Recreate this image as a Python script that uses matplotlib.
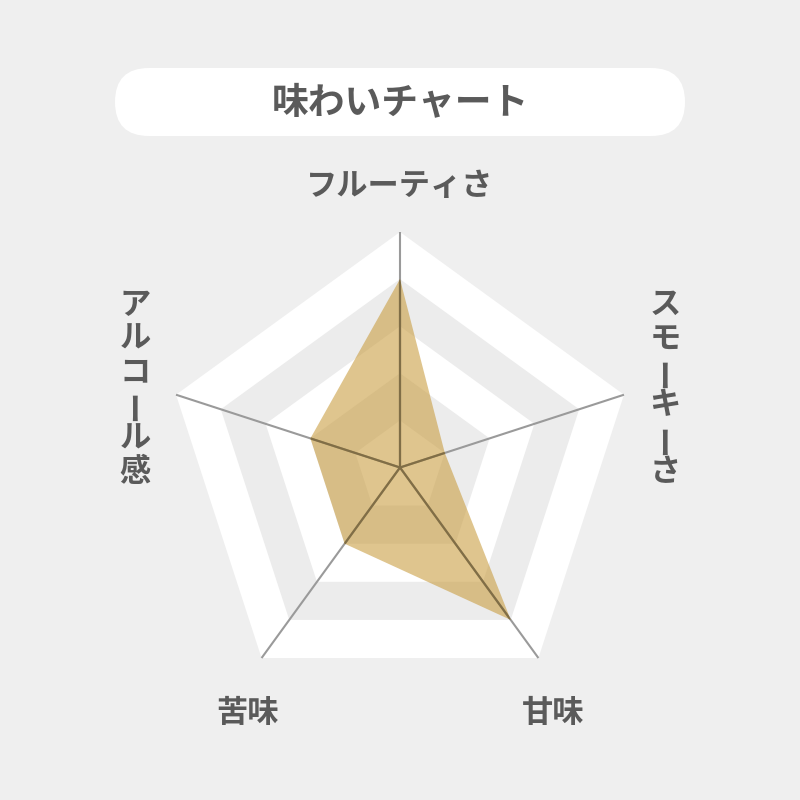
import numpy as np
import matplotlib
matplotlib.use("Agg")
import matplotlib.pyplot as plt
from matplotlib.patches import Polygon, FancyBboxPatch

plt.rcParams['font.family'] = ['Noto Sans CJK JP', 'DejaVu Sans']

# ---- data ----
title = "味わいチャート"
categories = ["フルーティさ", "スモーキーさ", "甘味", "苦味", "アルコール感"]
values = [4, 1, 4, 2, 2]
max_value = 5

BG = "#efefef"
BAND_GRAY = "#ececec"
TEXT = "#5a5a5a"
FILL = (200/255, 155/255, 60/255)

fig = plt.figure(figsize=(8, 8), dpi=100)
fig.patch.set_facecolor(BG)
ax = fig.add_axes([0, 0, 1, 1])
ax.set_xlim(0, 800)
ax.set_ylim(800, 0)
ax.axis("off")
ax.set_facecolor(BG)

cx, cy, R = 400, 467.5, 235.5
n = len(categories)
angles = np.deg2rad(90 - 360 / n * np.arange(n))

def pt(r, a):
    return cx + r * np.cos(a), cy - r * np.sin(a)

def ring(level):
    r = R * level / max_value
    return [pt(r, a) for a in angles]

# alternating bands
for lvl in range(max_value, 0, -1):
    col = "white" if (max_value - lvl) % 2 == 0 else BAND_GRAY
    ax.add_patch(Polygon(ring(lvl), closed=True, facecolor=col, edgecolor="none", zorder=1))

# axis lines (gray)
for a in angles:
    x1, y1 = pt(R, a)
    ax.plot([cx, x1], [cy, y1], color="#9a9a9a", lw=1.5, zorder=2, solid_capstyle="butt")

# data polygon
data_pts = [pt(R * v / max_value, a) for v, a in zip(values, angles)]
poly = Polygon(data_pts, closed=True, facecolor=FILL, alpha=0.58, edgecolor="none", zorder=3)
ax.add_patch(poly)

# axis lines inside polygon (darker)
clip = Polygon(data_pts, closed=True, facecolor="none", edgecolor="none")
ax.add_patch(clip)
for a in angles:
    x1, y1 = pt(R, a)
    ln, = ax.plot([cx, x1], [cy, y1], color=(0.5, 0.43, 0.28), lw=1.6, zorder=4, solid_capstyle="butt")
    ln.set_clip_path(clip)

# title box
box = FancyBboxPatch((115, 68), 570, 68, boxstyle="round,pad=0,rounding_size=34",
                     facecolor="white", edgecolor="none", zorder=5)
ax.add_patch(box)
ax.text(400, 103, title, ha="center", va="center", fontsize=26.5, fontweight="bold",
        color=TEXT, zorder=6)

# labels
lab_fs = 22.5
ax.text(400, 186, categories[0], ha="center", va="center", fontsize=lab_fs,
        fontweight="bold", color=TEXT)
ax.text(553, 713, categories[2], ha="center", va="center", fontsize=lab_fs,
        fontweight="bold", color=TEXT)
ax.text(247, 713, categories[3], ha="center", va="center", fontsize=lab_fs,
        fontweight="bold", color=TEXT)

def vertical(label, x, y0, step):
    for i, ch in enumerate(label):
        rot = 90 if ch == "ー" else 0
        ax.text(x, y0 + i * step, ch, ha="center", va="center", fontsize=lab_fs,
                fontweight="bold", color=TEXT, rotation=rot)

vertical(categories[1], 665, 305, 33.5)
vertical(categories[4], 135, 305, 33.5)

fig.savefig("out.png", dpi=100, facecolor=BG)
